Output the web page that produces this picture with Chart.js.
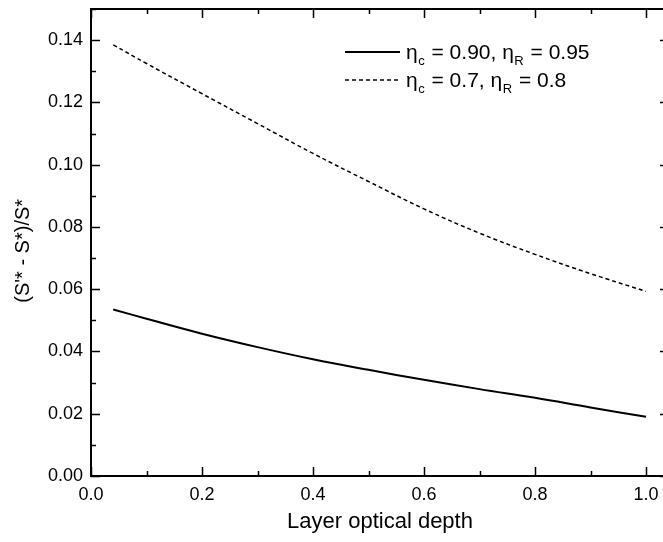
<!DOCTYPE html>
<html>
<head>
<meta charset="utf-8">
<script src="https://cdn.jsdelivr.net/npm/chart.js@4"></script>
<style>
  html, body { margin: 0; padding: 0; background: #fff; overflow: hidden; }
  #wrap { width: 663px; height: 542px; overflow: hidden; }
</style>
</head>
<body>
<div id="wrap"><canvas id="chart" width="669" height="542"></canvas></div>
<script>
// Values
const depth = [0.04, 0.1, 0.2, 0.3, 0.4, 0.5, 0.6, 0.7, 0.8, 0.9, 1.0];
const highEff = [0.0535, 0.0505, 0.0457, 0.0414, 0.0375, 0.0341, 0.0309, 0.0279, 0.0251, 0.0220, 0.0190];
const lowEff = [0.1385, 0.1325, 0.1228, 0.1132, 0.1036, 0.0946, 0.0858, 0.0780, 0.0712, 0.0650, 0.0593];
const seriesLabels = ['η_c = 0.90, η_R = 0.95', 'η_c = 0.7, η_R = 0.8'];
const xTickValues = [0.0, 0.2, 0.4, 0.6, 0.8, 1.0];
const yTickValues = [0.00, 0.02, 0.04, 0.06, 0.08, 0.10, 0.12, 0.14];
const xTitle = 'Layer optical depth';
const yTitle = '(S\'* - S*)/S*   ';

const FONT = '"Liberation Sans", Arial, Helvetica, sans-serif';

const toPoints = ys => depth.map((x, i) => ({ x: x, y: ys[i] }));

// frame, inward ticks (major + minor) on all four sides
const framePlugin = {
    id: 'frame',
    afterDraw(chart) {
        const { ctx, chartArea: a, scales } = chart;
        const xs = scales.x, ys = scales.y;
        ctx.save();
        ctx.strokeStyle = '#000';
        ctx.lineWidth = 2;
        ctx.strokeRect(a.left, a.top, a.right - a.left, a.bottom - a.top);
        ctx.lineWidth = 1.5;
        ctx.beginPath();
        for (let i = 0; i <= 10; i++) {
            const v = i / 10;
            const px = Math.round(xs.getPixelForValue(v)) + 0.5;
            const len = i % 2 === 0 ? 9 : 5;
            ctx.moveTo(px, a.bottom); ctx.lineTo(px, a.bottom - len);
            ctx.moveTo(px, a.top); ctx.lineTo(px, a.top + len);
        }
        for (let i = 0; i <= 15; i++) {
            const v = i / 100;
            const py = Math.round(ys.getPixelForValue(v)) + 0.5;
            const len = i % 2 === 0 ? 9 : 5;
            ctx.moveTo(a.left, py); ctx.lineTo(a.left + len, py);
            ctx.moveTo(a.right, py); ctx.lineTo(a.right - len, py);
        }
        ctx.stroke();
        ctx.restore();
    }
};

// legend with subscripts ("_x" means subscript x)
function drawRich(ctx, text, x, y, size) {
    const parts = text.split(/(_.)/);
    for (const p of parts) {
        if (!p) continue;
        if (p[0] === '_') {
            ctx.font = `${Math.round(size * 0.62)}px ${FONT}`;
            ctx.fillText(p[1], x + 0.5, y + size * 0.28);
            x += ctx.measureText(p[1]).width + 1.5;
        } else {
            ctx.font = `${size}px ${FONT}`;
            ctx.fillText(p, x, y);
            x += ctx.measureText(p).width;
        }
    }
}

const legendPlugin = {
    id: 'richLegend',
    afterDraw(chart) {
        const ctx = chart.ctx;
        ctx.save();
        ctx.fillStyle = '#000';
        ctx.textBaseline = 'alphabetic';
        chart.data.datasets.forEach((ds, i) => {
            const y = 52 + i * 28;
            ctx.strokeStyle = '#000';
            ctx.lineWidth = ds.borderWidth;
            ctx.setLineDash(ds.borderDash || []);
            ctx.beginPath();
            ctx.moveTo(345, y);
            ctx.lineTo(400, y);
            ctx.stroke();
            ctx.setLineDash([]);
            drawRich(ctx, ds.label, 406, y + 7, 21);
        });
        ctx.restore();
    }
};

new Chart(document.getElementById('chart'), {
    type: 'line',
    data: {
        datasets: [
            {
                label: seriesLabels[0],
                data: toPoints(highEff),
                borderColor: '#000',
                borderWidth: 2,
                pointRadius: 0,
                tension: 0.4,
                fill: false,
            },
            {
                label: seriesLabels[1],
                data: toPoints(lowEff),
                borderColor: '#000',
                borderWidth: 1.5,
                borderDash: [4, 3],
                pointRadius: 0,
                tension: 0.4,
                fill: false,
            },
        ],
    },
    options: {
        responsive: false,
        animation: false,
        devicePixelRatio: 1,
        layout: { padding: { top: 9, right: 0, left: 0, bottom: 0 } },
        plugins: {
            legend: { display: false },
            tooltip: { enabled: false },
        },
        scales: {
            x: {
                type: 'linear',
                min: 0,
                max: 1.0414,
                afterBuildTicks: s => { s.ticks = xTickValues.map(v => ({ value: v })); },
                afterFit: s => { s.height = 66; s.paddingLeft = 0; s.paddingRight = 0; },
                grid: { display: false, drawTicks: false },
                border: { display: false },
                ticks: {
                    color: '#000',
                    padding: 8,
                    maxRotation: 0,
                    font: { family: FONT, size: 18 },
                    callback: v => v.toFixed(1),
                },
                title: {
                    display: true,
                    text: xTitle,
                    color: '#000',
                    font: { family: FONT, size: 22 },
                    padding: { top: 0, bottom: 7 },
                },
            },
            y: {
                min: 0,
                max: 0.15,
                afterBuildTicks: s => { s.ticks = yTickValues.map(v => ({ value: v })); },
                afterFit: s => { s.width = 91; s.paddingTop = 0; s.paddingBottom = 0; },
                grid: { display: false, drawTicks: false },
                border: { display: false },
                ticks: {
                    color: '#000',
                    padding: 8,
                    font: { family: FONT, size: 18 },
                    callback: v => v.toFixed(2),
                },
                title: {
                    display: true,
                    text: yTitle,
                    color: '#000',
                    font: { family: FONT, size: 20 },
                    padding: { top: 11, bottom: 0 },
                },
            },
        },
    },
    plugins: [framePlugin, legendPlugin],
});
</script>
</body>
</html>
